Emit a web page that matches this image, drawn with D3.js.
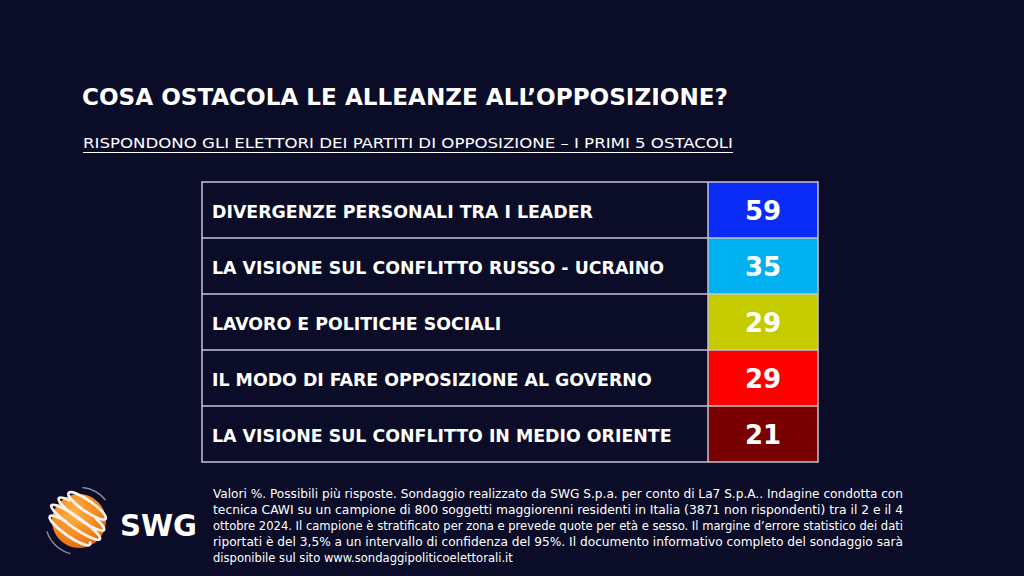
<!DOCTYPE html>
<html>
<head>
<meta charset="utf-8">
<script src="https://cdn.jsdelivr.net/npm/d3@7"></script>
<style>
html,body{margin:0;padding:0;background:#0b0c27;}
svg{display:block;}
</style>
</head>
<body>
<script>
const title = "COSA OSTACOLA LE ALLEANZE ALL\u2019OPPOSIZIONE?";
const subtitle = "RISPONDONO GLI ELETTORI DEI PARTITI DI OPPOSIZIONE \u2013 I PRIMI 5 OSTACOLI";
const categories = [
  "DIVERGENZE PERSONALI TRA I LEADER",
  "LA VISIONE SUL CONFLITTO RUSSO - UCRAINO",
  "LAVORO E POLITICHE SOCIALI",
  "IL MODO DI FARE OPPOSIZIONE AL GOVERNO",
  "LA VISIONE SUL CONFLITTO IN MEDIO ORIENTE"
];
const values = [59, 35, 29, 29, 21];
const palette = ["#0b2cf6", "#00b0ef", "#c6cb00", "#fe0000", "#780000"];
const footLines = [
  "Valori %. Possibili più risposte. Sondaggio realizzato da SWG S.p.a. per conto di La7 S.p.A.. Indagine condotta con",
  "tecnica CAWI su un campione di 800 soggetti maggiorenni residenti in Italia (3871 non rispondenti) tra il 2 e il 4",
  "ottobre 2024. Il campione è stratificato per zona e prevede quote per età e sesso. Il margine d\u2019errore statistico dei dati",
  "riportati è del 3,5% a un intervallo di confidenza del 95%. Il documento informativo completo del sondaggio sarà",
  "disponibile sul sito www.sondaggipoliticoelettorali.it"
];

const W = 1024, H = 576;
const svg = d3.select("body").append("svg").attr("width", W).attr("height", H);
svg.append("rect").attr("width", W).attr("height", H).attr("fill", "#0b0c27");

const FONT = "'DejaVu Sans Condensed','DejaVu Sans',Verdana,sans-serif";

function fit(sel, w, mode) {
  sel.attr("textLength", w).attr("lengthAdjust", mode || "spacingAndGlyphs");
}

// Title
const t = svg.append("text").attr("x", 82).attr("y", 105)
  .attr("fill", "#fff").attr("font-family", FONT).attr("font-weight", "bold")
  .attr("font-size", 23.5).text(title);
fit(t, 646);

// Subtitle
const st = svg.append("text").attr("x", 83).attr("y", 148)
  .attr("fill", "#fff").attr("font-family", FONT)
  .attr("font-size", 14).text(subtitle);
fit(st, 650);
svg.append("line").attr("x1", 83).attr("x2", 733).attr("y1", 152.5).attr("y2", 152.5)
  .attr("stroke", "#fff").attr("stroke-width", 1.2);

// Table
const tableX0 = 202, tableX1 = 818, valX0 = 708;
const y = d3.scaleBand().domain(categories).range([182, 462]);
const xcol = d3.scaleOrdinal().domain(["label", "value"]).range([tableX0, valX0]);

const rows = svg.append("g").selectAll("g").data(categories).join("g")
  .attr("transform", d => `translate(0,${y(d)})`);

rows.append("rect").attr("x", xcol("value")).attr("y", 0)
  .attr("width", tableX1 - valX0).attr("height", y.bandwidth())
  .attr("fill", (d, i) => palette[i]);

const labels = rows.append("text").attr("x", tableX0 + 10).attr("y", y.bandwidth() / 2 + 8)
  .attr("fill", "#fff").attr("font-family", FONT).attr("font-weight", "bold")
  .attr("font-size", 17.5).text(d => d);

// scale labels uniformly so the first label matches reference width
const n0 = labels.nodes()[0].getComputedTextLength();
const k = 381 / n0;
labels.each(function() {
  const w = this.getComputedTextLength();
  d3.select(this).attr("textLength", w * k).attr("lengthAdjust", "spacingAndGlyphs");
});

rows.append("text").attr("x", (valX0 + tableX1) / 2).attr("y", y.bandwidth() / 2 + 10)
  .attr("text-anchor", "middle").attr("fill", "#fff")
  .attr("font-family", "'DejaVu Sans',Verdana,sans-serif").attr("font-weight", "bold")
  .attr("font-size", 26).text((d, i) => values[i]);

// grid lines
const gridColor = "#c4c4d2";
const grid = svg.append("g").attr("fill", "none").attr("stroke", gridColor).attr("stroke-width", 1.5);
grid.append("rect").attr("x", tableX0).attr("y", y.range()[0])
  .attr("width", tableX1 - tableX0).attr("height", y.range()[1] - y.range()[0]);
grid.selectAll("line.h").data(categories.slice(1)).join("line")
  .attr("x1", tableX0).attr("x2", tableX1).attr("y1", d => y(d)).attr("y2", d => y(d));
grid.append("line").attr("x1", valX0).attr("x2", valX0)
  .attr("y1", y.range()[0]).attr("y2", y.range()[1]);

// Footnote (justified)
const foot = svg.append("g");
const fx = 213, fw = 690;
const ftexts = foot.selectAll("text").data(footLines).join("text")
  .attr("x", fx).attr("y", (d, i) => 498 + i * 16)
  .attr("fill", "#fff").attr("font-family", FONT).attr("font-size", 12.4)
  .text(d => d);
const nat = ftexts.nodes().map(n => n.getComputedTextLength());
const kf = fw / d3.max(nat.slice(0, 4));
ftexts.each(function(d, i) {
  if (i < 4) d3.select(this).attr("textLength", fw).attr("lengthAdjust", "spacingAndGlyphs");
  else d3.select(this).attr("textLength", nat[i] * kf).attr("lengthAdjust", "spacingAndGlyphs");
});

// Logo
const defs = svg.append("defs");
const grad = defs.append("radialGradient").attr("id", "orb").attr("cx", "40%").attr("cy", "35%").attr("r", "70%");
grad.append("stop").attr("offset", "0%").attr("stop-color", "#ffb347");
grad.append("stop").attr("offset", "60%").attr("stop-color", "#f68a1e");
grad.append("stop").attr("offset", "100%").attr("stop-color", "#e06a0a");

const logo = svg.append("g").attr("transform", "translate(79,521)");
logo.append("path")
  .attr("d", d3.arc()({innerRadius: 33, outerRadius: 34.5, startAngle: 3.4, endAngle: 4.4}))
  .attr("fill", "#8a8aa0");
logo.append("path")
  .attr("d", d3.arc()({innerRadius: 33, outerRadius: 34.5, startAngle: 0.1, endAngle: 0.9}))
  .attr("fill", "#8a8aa0");
logo.append("circle").attr("r", 27).attr("fill", "url(#orb)");
const rings = logo.append("g").attr("transform", "rotate(35)").attr("fill", "none")
  .attr("stroke", "#f4f1ee").attr("stroke-width", 2.8);
[-17, -7, 3, 13].forEach((off, i) => {
  rings.append("ellipse").attr("cx", -2).attr("cy", off).attr("rx", 31 - Math.abs(off) * 0.5).attr("ry", 5.5)
    .attr("stroke-dasharray", i % 2 ? "70 30" : "none");
});
const swg = svg.append("text").attr("x", 120).attr("y", 536)
  .attr("fill", "#fff").attr("font-family", "'DejaVu Sans',Verdana,sans-serif")
  .attr("font-weight", "bold").attr("font-size", 31).text("SWG");
fit(swg, 77);
</script>
</body>
</html>
